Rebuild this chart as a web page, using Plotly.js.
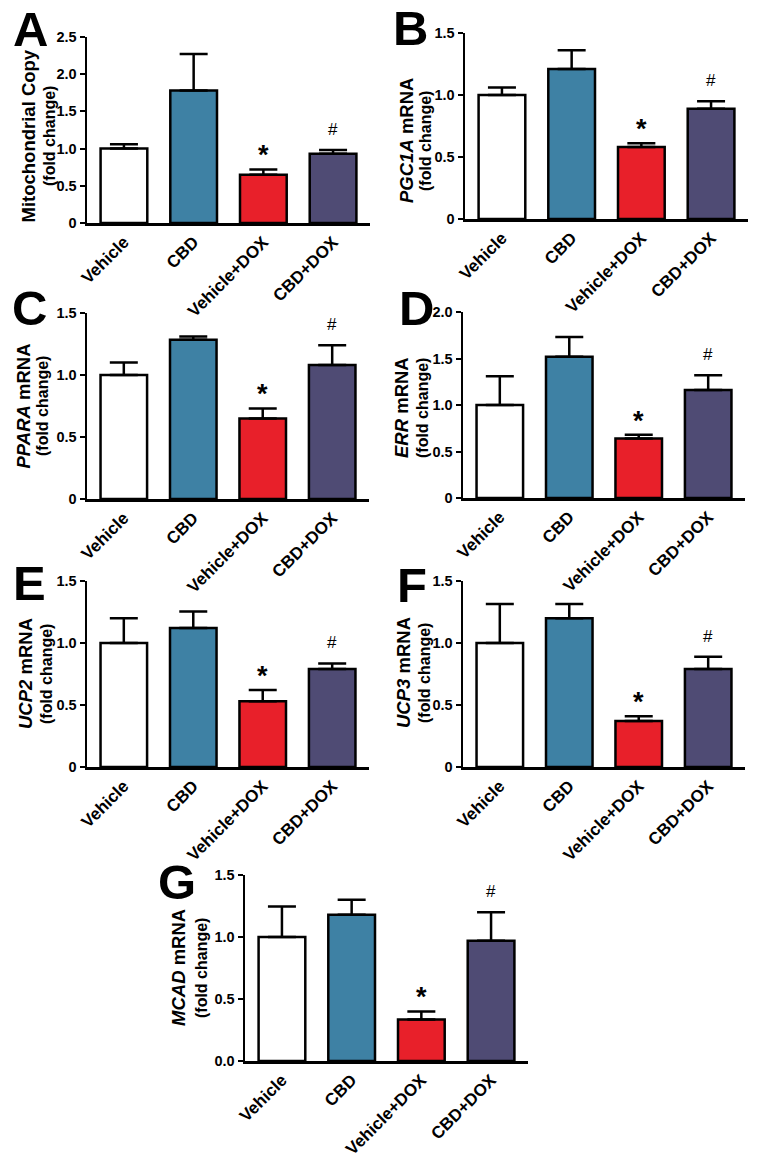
<!DOCTYPE html>
<html>
<head>
<meta charset="utf-8">
<script src="https://cdn.plot.ly/plotly-3.0.1.min.js"></script>
<style>body{margin:0;background:#fff}</style>
</head>
<body>
<div id="chart" style="width:760px;height:1161px"></div>
<script>
var groups = ['Vehicle', 'CBD', 'Vehicle+DOX', 'CBD+DOX'];
var barColors = ['#ffffff', '#3e81a4', '#e8202a', '#4f4b74'];

// means and SEM (upper error only)
var mitoCopy = [1.00, 1.78, 0.65, 0.93];
var mitoCopySem = [0.06, 0.49, 0.07, 0.05];
var pgc1a = [1.00, 1.21, 0.58, 0.89];
var pgc1aSem = [0.06, 0.15, 0.03, 0.06];
var ppara = [1.00, 1.285, 0.65, 1.08];
var pparaSem = [0.10, 0.025, 0.08, 0.16];
var err = [1.00, 1.52, 0.64, 1.16];
var errSem = [0.31, 0.21, 0.04, 0.16];
var ucp2 = [1.00, 1.12, 0.53, 0.79];
var ucp2Sem = [0.20, 0.135, 0.09, 0.045];
var ucp3 = [1.00, 1.20, 0.37, 0.79];
var ucp3Sem = [0.315, 0.115, 0.04, 0.10];
var mcad = [1.00, 1.18, 0.335, 0.97];
var mcadSem = [0.245, 0.12, 0.065, 0.23];

var ticks25 = [0, 0.5, 1.0, 1.5, 2.0, 2.5];
var ticks25Text = ['0', '0.5', '1.0', '1.5', '2.0', '2.5'];
var ticks20 = [0, 0.5, 1.0, 1.5, 2.0];
var ticks20Text = ['0', '0.5', '1.0', '1.5', '2.0'];
var ticks15 = [0, 0.5, 1.0, 1.5];
var ticks15Text = ['0', '0.5', '1.0', '1.5'];
var ticks15TextG = ['0.0', '0.5', '1.0', '1.5'];

var W = 760, H = 1161;
function px(x) { return x / W; }
function py(y) { return 1 - y / H; }

// box: [left, right, top, bottom] of the axes in px; lab: [x main, x sub, y centre]; let: panel letter centre
var panels = [
  {letter: 'A', label: 'Mitochondrial Copy', y: mitoCopy, sem: mitoCopySem, top: 2.5, tv: ticks25, tt: ticks25Text,
    box: [87, 370, 37, 223], lab: [27.5, 49, 136], let: [30, 29]},
  {letter: 'B', label: '<i>PGC1A</i> mRNA', y: pgc1a, sem: pgc1aSem, top: 1.5, tv: ticks15, tt: ticks15Text,
    box: [465, 748, 33, 219], lab: [406, 425, 141], let: [410, 28]},
  {letter: 'C', label: '<i>PPARA</i> mRNA', y: ppara, sem: pparaSem, top: 1.5, tv: ticks15, tt: ticks15Text,
    box: [87, 369, 313, 499], lab: [22.5, 42, 406], let: [29, 308]},
  {letter: 'D', label: '<i>ERR</i> mRNA', y: err, sem: errSem, top: 2.0, tv: ticks20, tt: ticks20Text,
    box: [463, 745, 312, 498], lab: [401, 422, 408], let: [416, 308]},
  {letter: 'E', label: '<i>UCP2</i> mRNA', y: ucp2, sem: ucp2Sem, top: 1.5, tv: ticks15, tt: ticks15Text,
    box: [87, 369, 581, 767], lab: [25, 46, 674], let: [29, 583]},
  {letter: 'F', label: '<i>UCP3</i> mRNA', y: ucp3, sem: ucp3Sem, top: 1.5, tv: ticks15, tt: ticks15Text,
    box: [463, 745, 581, 767], lab: [403, 424, 673], let: [412, 585]},
  {letter: 'G', label: '<i>MCAD</i> mRNA', y: mcad, sem: mcadSem, top: 1.5, tv: ticks15, tt: ticks15TextG,
    box: [245, 528, 875, 1061], lab: [178, 201, 968], let: [177, 882]}
];

var font = 'Liberation Sans, Arial, sans-serif';
var data = [];
var layout = {
  width: W, height: H,
  margin: {l: 0, r: 0, t: 0, b: 0},
  paper_bgcolor: '#fff', plot_bgcolor: 'rgba(0,0,0,0)',
  showlegend: false,
  font: {family: font, color: '#000'},
  annotations: []
};

panels.forEach(function (p, i) {
  var n = i ? String(i + 1) : '';
  data.push({
    type: 'bar', x: groups, y: p.y, xaxis: 'x' + n, yaxis: 'y' + n,
    width: 0.67,
    marker: {color: barColors, line: {color: '#000', width: 2.5}},
    error_y: {type: 'data', symmetric: false, array: p.sem, arrayminus: [0, 0, 0, 0],
      color: '#000', thickness: 2.5, width: 14},
    hoverinfo: 'x+y'
  });
  layout['xaxis' + n] = {
    domain: [px(p.box[0]), px(p.box[1])], anchor: 'y' + n,
    range: [-0.53, 3.53], showline: true, linecolor: '#000', linewidth: 2.5,
    ticks: '', tickangle: -45, showgrid: false, zeroline: false,
    tickfont: {family: font, size: 17, weight: 'bold'}
  };
  layout['yaxis' + n] = {
    domain: [py(p.box[3]), py(p.box[2])], anchor: 'x' + n,
    range: [0, p.top], showline: true, linecolor: '#000', linewidth: 2.5,
    ticks: 'outside', ticklen: 5, tickwidth: 2, tickcolor: '#000',
    tickvals: p.tv, ticktext: p.tt, showgrid: false, zeroline: false,
    tickfont: {family: font, size: 14.5, weight: 'bold'}
  };
  var ann = layout.annotations;
  ann.push({xref: 'paper', yref: 'paper', x: px(p.let[0]), y: py(p.let[1]),
    xanchor: 'center', yanchor: 'middle', showarrow: false,
    text: '<b>' + p.letter + '</b>', font: {family: font, size: 49}});
  ann.push({xref: 'paper', yref: 'paper', x: px(p.lab[0]), y: py(p.lab[2]),
    xanchor: 'center', yanchor: 'middle', showarrow: false, textangle: -90,
    text: '<b>' + p.label + '</b>', font: {family: font, size: 18.5}});
  ann.push({xref: 'paper', yref: 'paper', x: px(p.lab[1]), y: py(p.lab[2]),
    xanchor: 'center', yanchor: 'middle', showarrow: false, textangle: -90,
    text: '<b>(fold change)</b>', font: {family: font, size: 16}});
  ann.push({xref: 'x' + n, yref: 'y' + n, x: groups[2], y: p.y[2] + p.sem[2],
    xanchor: 'center', yanchor: 'bottom', yshift: -3, showarrow: false,
    text: '<b>*</b>', font: {family: font, size: 27}});
  ann.push({xref: 'x' + n, yref: 'y' + n, x: groups[3], y: p.y[3] + p.sem[3],
    xanchor: 'center', yanchor: 'bottom', yshift: 9, showarrow: false,
    text: '#', font: {family: font, size: 17}});
});

Plotly.newPlot('chart', data, layout, {displayModeBar: false, staticPlot: true});
</script>
</body>
</html>
